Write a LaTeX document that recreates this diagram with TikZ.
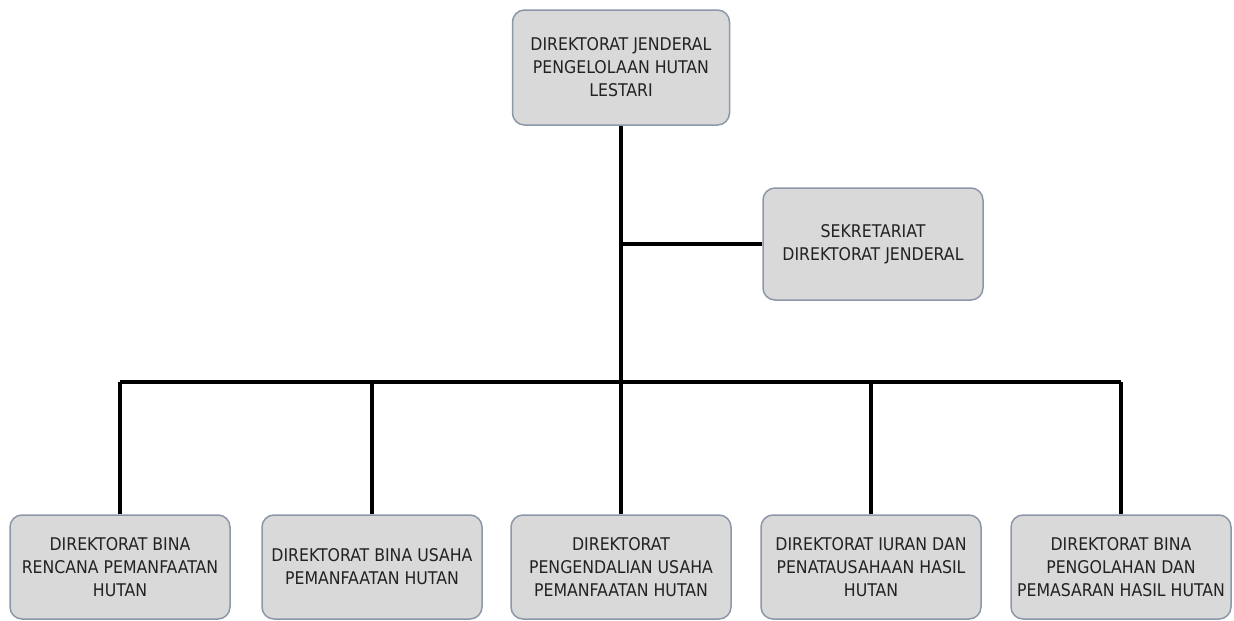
\documentclass[tikz,border=0pt]{standalone}
\usepackage{fontspec}
\setmainfont{DejaVu Sans Condensed}
\definecolor{boxfill}{HTML}{D9D9D9}
\definecolor{boxline}{HTML}{8C97A8}
\definecolor{txt}{HTML}{222222}
\tikzset{
  orgbox/.style={draw=boxline, fill=boxfill, line width=1.5pt, rounded corners=12pt,
    align=center, text=txt, font=\fontsize{17.5}{23}\selectfont, inner sep=2pt},
  conn/.style={line width=3.2pt, black}
}
\begin{document}
\begin{tikzpicture}[x=1pt,y=-1pt]
\useasboundingbox (0,0) rectangle (1234,621);
\node[orgbox, minimum width=217pt, minimum height=115pt] (top) at (621,67.5) {DIREKTORAT JENDERAL\\PENGELOLAAN HUTAN\\LESTARI};
\node[orgbox, minimum width=220pt, minimum height=112pt] (sek) at (873,244) {SEKRETARIAT\\DIREKTORAT JENDERAL};
\node[orgbox, minimum width=220pt, minimum height=104pt] (b1) at (120,567) {DIREKTORAT BINA\\RENCANA PEMANFAATAN\\HUTAN};
\node[orgbox, minimum width=220pt, minimum height=104pt] (b2) at (372,567) {DIREKTORAT BINA USAHA\\PEMANFAATAN HUTAN};
\node[orgbox, minimum width=220pt, minimum height=104pt] (b3) at (621,567) {DIREKTORAT\\PENGENDALIAN USAHA\\PEMANFAATAN HUTAN};
\node[orgbox, minimum width=220pt, minimum height=104pt] (b4) at (871,567) {DIREKTORAT IURAN DAN\\PENATAUSAHAAN HASIL\\HUTAN};
\node[orgbox, minimum width=220pt, minimum height=104pt] (b5) at (1121,567) {DIREKTORAT BINA\\PENGOLAHAN DAN\\PEMASARAN HASIL HUTAN};
\coordinate (bus) at (621,382);
\draw[conn] (top.south) -- (bus);
\draw[conn] (sek.west) -- (top.south |- sek.west);
\draw[conn] (b1.north |- bus) -- (b5.north |- bus);
\foreach \b in {b1,b2,b3,b4,b5} \draw[conn] (\b.north) -- (\b.north |- bus);
\end{tikzpicture}
\end{document}
